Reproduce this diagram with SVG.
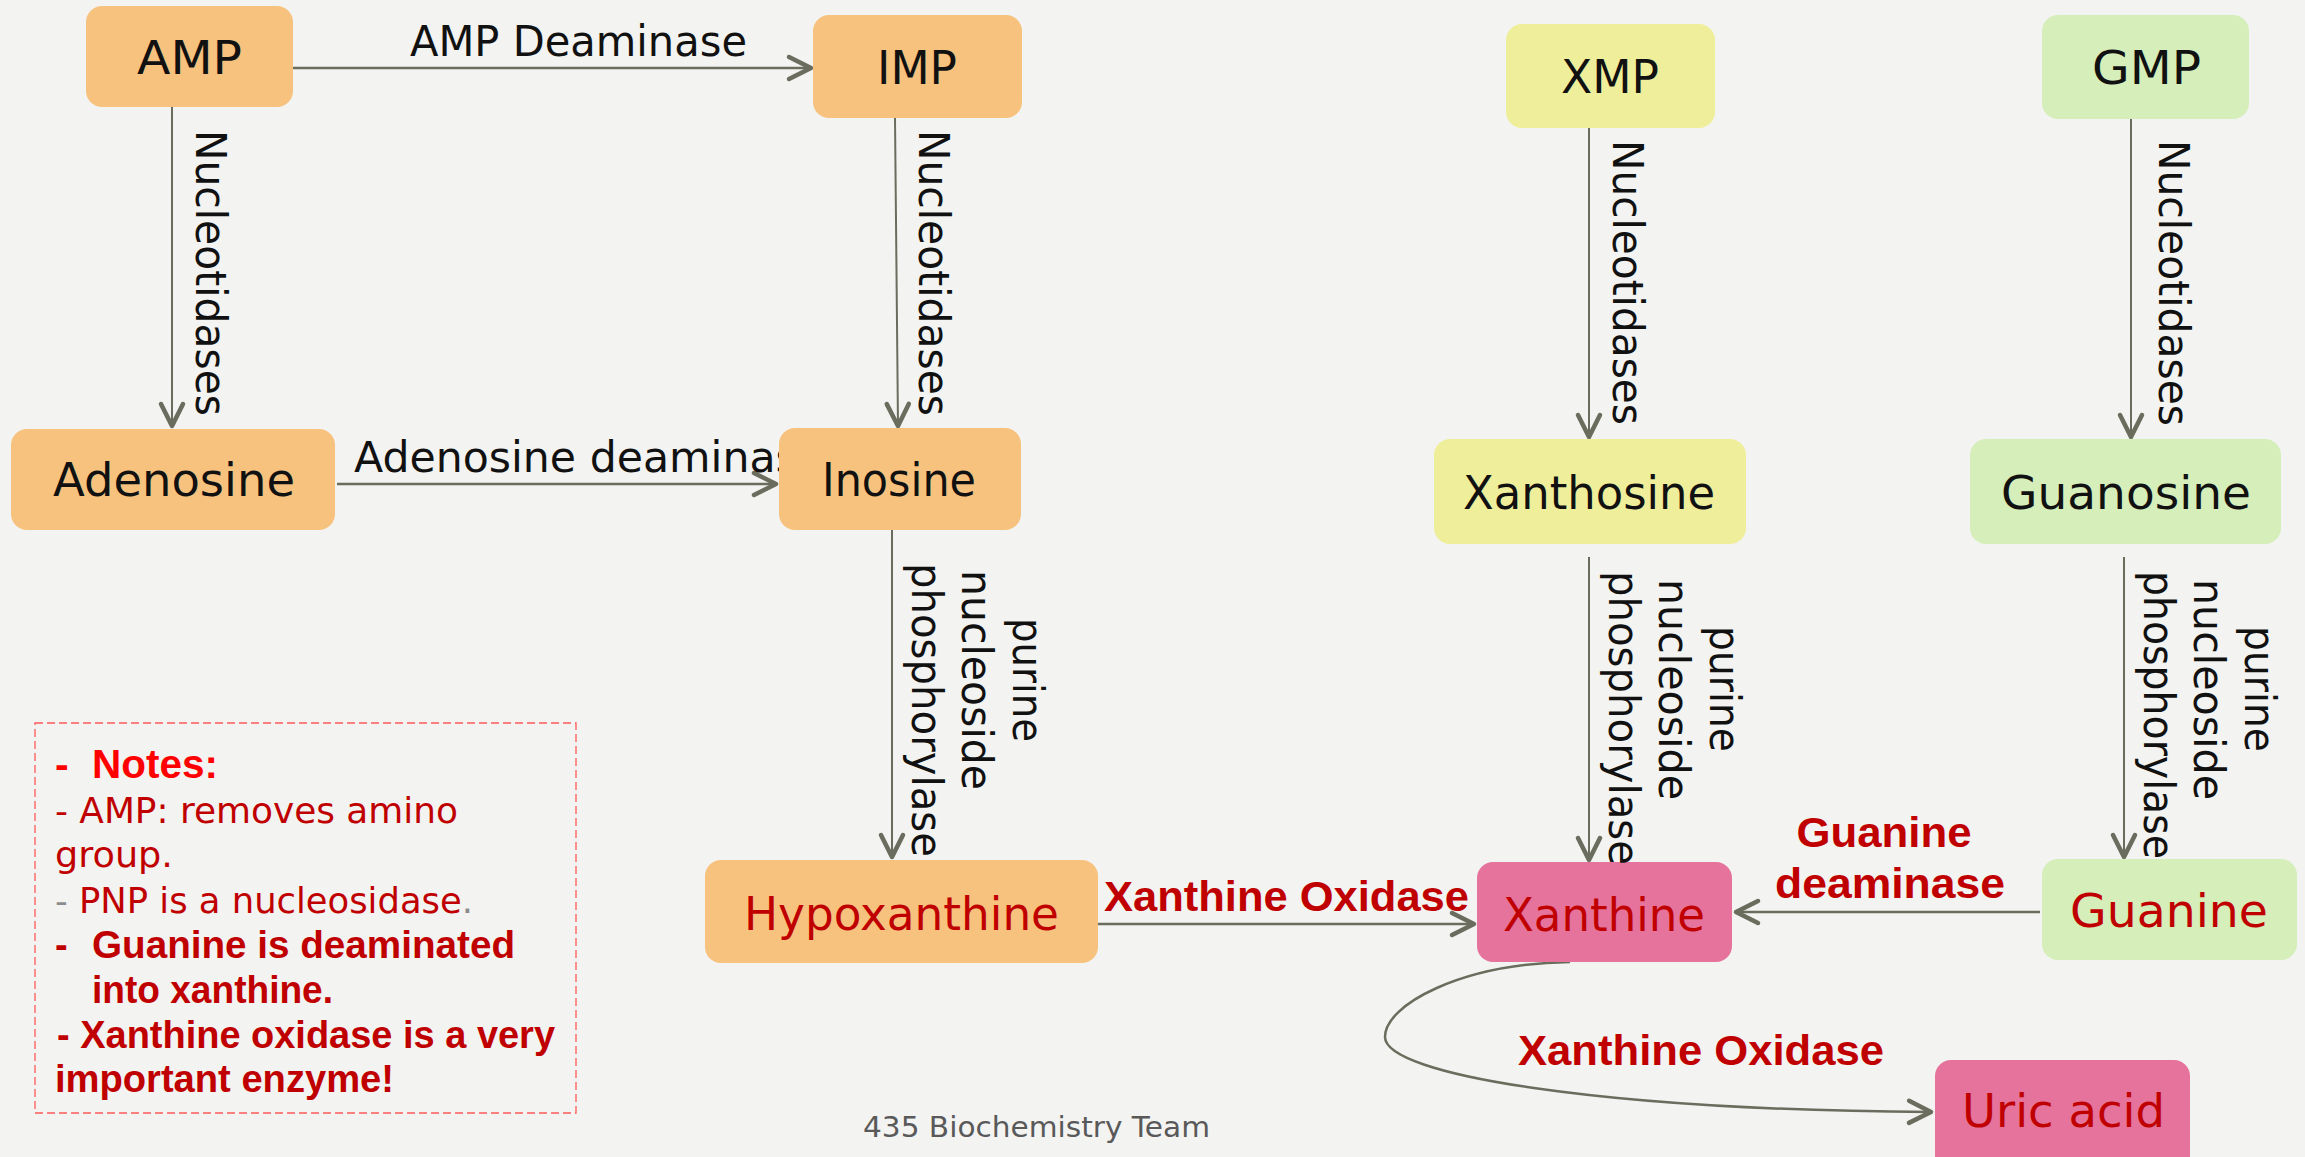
<svg xmlns="http://www.w3.org/2000/svg" width="2305" height="1157" viewBox="0 0 2305 1157">
<defs>
<style>
.or{fill:#F7C27E}
.ye{fill:#EFEE9B}
.gr{fill:#D5EEBA}
.pk{fill:#E5739B}
.nl{font-family:"DejaVu Sans","Liberation Sans",sans-serif;font-size:46px;fill:#111}
.nr{font-family:"DejaVu Sans","Liberation Sans",sans-serif;font-size:46px;fill:#C00000}
.el{font-family:"DejaVu Sans","Liberation Sans",sans-serif;font-size:42px;fill:#111}
.bl{font-family:"Liberation Sans",Arial,sans-serif;font-weight:bold;font-size:42px;fill:#C00000}
.nt{font-family:"DejaVu Sans","Liberation Sans",sans-serif;font-size:35px;fill:#C00000}
.nb{font-family:"Liberation Sans",Arial,sans-serif;font-weight:bold;font-size:38px;fill:#C00000}
.ln{fill:none;stroke:#6A6D5D;stroke-width:2.5}
.lv{fill:none;stroke:#6A6D5D;stroke-width:2}
</style>
<marker id="ah" markerUnits="userSpaceOnUse" markerWidth="40" markerHeight="40" viewBox="-30 -20 40 40" refX="0" refY="0" orient="auto">
<path d="M-22,-11 L0,0 L-22,11" fill="none" stroke="#6A6D5D" stroke-width="4.5" stroke-linecap="round" stroke-linejoin="round"/>
</marker>
</defs>
<rect width="2305" height="1157" fill="#F3F3F1"/>

<g id="connectors">
<line class="ln" x1="293" y1="68" x2="811" y2="68" marker-end="url(#ah)"/>
<line class="ln" x1="337" y1="484" x2="776" y2="484" marker-end="url(#ah)"/>
<line class="lv" x1="172" y1="107" x2="172" y2="426" marker-end="url(#ah)"/>
<line class="lv" x1="895" y1="118" x2="898" y2="426" marker-end="url(#ah)"/>
<line class="lv" x1="1589" y1="128" x2="1589" y2="437" marker-end="url(#ah)"/>
<line class="lv" x1="2131" y1="119" x2="2131" y2="437" marker-end="url(#ah)"/>
<line class="lv" x1="892" y1="530" x2="892" y2="857" marker-end="url(#ah)"/>
<line class="lv" x1="1589" y1="557" x2="1589" y2="860" marker-end="url(#ah)"/>
<line class="lv" x1="2124" y1="557" x2="2124" y2="857" marker-end="url(#ah)"/>
<line class="ln" x1="1098" y1="924" x2="1474" y2="924" marker-end="url(#ah)"/>
<line class="ln" x1="2040" y1="912" x2="1736" y2="912" marker-end="url(#ah)"/>
<path class="ln" d="M1570,962 C1460,964 1385,1005 1385,1037 C1385,1075 1600,1110 1931,1112" marker-end="url(#ah)"/>
<text class="el" x="354" y="472" textLength="470" lengthAdjust="spacingAndGlyphs">Adenosine deaminase</text>
</g>

<g id="node-amp"><rect class="or" x="86" y="6" width="207" height="101" rx="16"/><text class="nl" x="137" y="74" textLength="105" lengthAdjust="spacingAndGlyphs">AMP</text></g>
<g id="node-imp"><rect class="or" x="813" y="15" width="209" height="103" rx="16"/><text class="nl" x="877" y="84" textLength="80" lengthAdjust="spacingAndGlyphs">IMP</text></g>
<g id="node-adenosine"><rect class="or" x="11" y="429" width="324" height="101" rx="16"/><text class="nl" x="53" y="496" textLength="242" lengthAdjust="spacingAndGlyphs">Adenosine</text></g>
<g id="node-inosine"><rect class="or" x="779" y="428" width="242" height="102" rx="16"/><text class="nl" x="822" y="496" textLength="154" lengthAdjust="spacingAndGlyphs">Inosine</text></g>
<g id="node-xmp"><rect class="ye" x="1506" y="24" width="209" height="104" rx="16"/><text class="nl" x="1561" y="93" textLength="98" lengthAdjust="spacingAndGlyphs">XMP</text></g>
<g id="node-gmp"><rect class="gr" x="2042" y="15" width="207" height="104" rx="16"/><text class="nl" x="2092" y="84" textLength="109" lengthAdjust="spacingAndGlyphs">GMP</text></g>
<g id="node-xanthosine"><rect class="ye" x="1434" y="439" width="312" height="105" rx="16"/><text class="nl" x="1463" y="509" textLength="252" lengthAdjust="spacingAndGlyphs">Xanthosine</text></g>
<g id="node-guanosine"><rect class="gr" x="1970" y="439" width="311" height="105" rx="16"/><text class="nl" x="2001" y="509" textLength="250" lengthAdjust="spacingAndGlyphs">Guanosine</text></g>
<g id="node-hypoxanthine"><rect class="or" x="705" y="860" width="393" height="103" rx="16"/><text class="nr" x="744" y="930" textLength="315" lengthAdjust="spacingAndGlyphs">Hypoxanthine</text></g>
<g id="node-xanthine"><rect class="pk" x="1477" y="862" width="255" height="100" rx="16"/><text class="nr" x="1503" y="931" textLength="202" lengthAdjust="spacingAndGlyphs">Xanthine</text></g>
<g id="node-guanine"><rect class="gr" x="2042" y="859" width="255" height="101" rx="16"/><text class="nr" x="2070" y="927" textLength="198" lengthAdjust="spacingAndGlyphs">Guanine</text></g>
<g id="node-uricacid"><rect class="pk" x="1935" y="1060" width="255" height="115" rx="16"/><text class="nr" x="1962" y="1127" textLength="203" lengthAdjust="spacingAndGlyphs">Uric acid</text></g>

<g id="labels">
<text class="bl" x="410" y="56" textLength="337" lengthAdjust="spacingAndGlyphs" style="font-family:'DejaVu Sans',sans-serif;font-weight:normal;fill:#111">AMP Deaminase</text>
<text class="el" transform="translate(196,130) rotate(90)" textLength="286" lengthAdjust="spacingAndGlyphs">Nucleotidases</text>
<text class="el" transform="translate(919,130) rotate(90)" textLength="286" lengthAdjust="spacingAndGlyphs">Nucleotidases</text>
<text class="el" transform="translate(1613,140) rotate(90)" textLength="285" lengthAdjust="spacingAndGlyphs">Nucleotidases</text>
<text class="el" transform="translate(2159,140) rotate(90)" textLength="286" lengthAdjust="spacingAndGlyphs">Nucleotidases</text>

<text class="el" transform="translate(1013,618) rotate(90)" textLength="124" lengthAdjust="spacingAndGlyphs">purine</text>
<text class="el" transform="translate(962,570) rotate(90)" textLength="220" lengthAdjust="spacingAndGlyphs">nucleoside</text>
<text class="el" transform="translate(912,563) rotate(90)" textLength="294" lengthAdjust="spacingAndGlyphs">phosphorylase</text>

<text class="el" transform="translate(1710,626) rotate(90)" textLength="126" lengthAdjust="spacingAndGlyphs">purine</text>
<text class="el" transform="translate(1659,579) rotate(90)" textLength="221" lengthAdjust="spacingAndGlyphs">nucleoside</text>
<text class="el" transform="translate(1609,571) rotate(90)" textLength="294" lengthAdjust="spacingAndGlyphs">phosphorylase</text>

<text class="el" transform="translate(2245,626) rotate(90)" textLength="126" lengthAdjust="spacingAndGlyphs">purine</text>
<text class="el" transform="translate(2194,579) rotate(90)" textLength="221" lengthAdjust="spacingAndGlyphs">nucleoside</text>
<text class="el" transform="translate(2144,571) rotate(90)" textLength="288" lengthAdjust="spacingAndGlyphs">phosphorylase</text>

<text class="bl" x="1104" y="911" textLength="365" lengthAdjust="spacingAndGlyphs">Xanthine Oxidase</text>
<text class="bl" x="1884" y="847" text-anchor="middle" textLength="175" lengthAdjust="spacingAndGlyphs">Guanine</text>
<text class="bl" x="1890" y="898" text-anchor="middle" textLength="230" lengthAdjust="spacingAndGlyphs">deaminase</text>
<text class="bl" x="1518" y="1065" textLength="366" lengthAdjust="spacingAndGlyphs">Xanthine Oxidase</text>
</g>

<g id="notes">
<rect x="35" y="723" width="541" height="390" fill="none" stroke="#FF5A5A" stroke-width="1.3" stroke-dasharray="8,4"/>
<text class="nb" x="55" y="778" style="fill:#FF0000;font-size:41px">-</text>
<text class="nb" x="92" y="778" textLength="126" lengthAdjust="spacingAndGlyphs" style="fill:#FF0000;font-size:41px">Notes:</text>
<text class="nt" x="55" y="823" textLength="403" lengthAdjust="spacingAndGlyphs">- AMP: removes amino</text>
<text class="nt" x="55" y="867" textLength="118" lengthAdjust="spacingAndGlyphs">group.</text>
<text class="nt" x="55" y="913" textLength="418" lengthAdjust="spacingAndGlyphs"><tspan fill="#8C8C8C">-</tspan> PNP is a nucleosidase<tspan fill="#8C8C8C">.</tspan></text>
<text class="nb" x="55" y="958">-</text>
<text class="nb" x="92" y="958" textLength="423" lengthAdjust="spacingAndGlyphs">Guanine is deaminated</text>
<text class="nb" x="92" y="1003" textLength="241" lengthAdjust="spacingAndGlyphs">into xanthine.</text>
<text class="nb" x="57" y="1048" textLength="498" lengthAdjust="spacingAndGlyphs">- Xanthine oxidase is a very</text>
<text class="nb" x="55" y="1092" textLength="339" lengthAdjust="spacingAndGlyphs">important enzyme!</text>
</g>

<text x="863" y="1137" textLength="347" lengthAdjust="spacingAndGlyphs" style="font-family:'DejaVu Sans',sans-serif;font-size:29px;fill:#595959">435 Biochemistry Team</text>
</svg>
